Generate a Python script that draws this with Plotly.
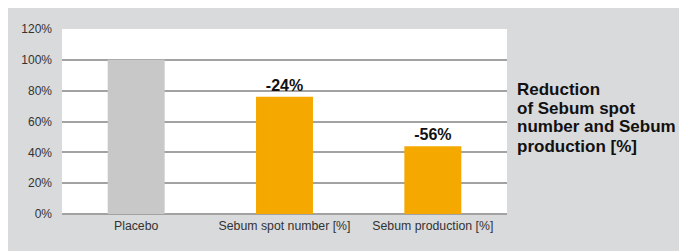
import plotly.graph_objects as go

categories = ["Placebo", "Sebum spot number [%]", "Sebum production [%]"]
values = [100, 76, 44]
bar_labels = ["", "-24%", "-56%"]
bar_colors = ["#c8c8c8", "#f5a800", "#f5a800"]
y_ticks = [0, 20, 40, 60, 80, 100, 120]
y_tick_labels = ["0%", "20%", "40%", "60%", "80%", "100%", "120%"]
side_title = ["Reduction", "of Sebum spot", "number and Sebum", "production [%]"]

# page body has an 8px margin; the figure fills the rest of the window
OFF = 8
W, H = 687 - OFF, 251 - OFF
ml, mr, mt, mb = 54, 180, 21, 37
pw = W - ml - mr
ph = H - mt - mb

def px_x(px):
    return (px - OFF - ml) / pw

def px_y(py):
    return (H - mb - (py - OFF)) / ph

fig = go.Figure()
fig.add_trace(go.Bar(
    x=categories, y=values,
    marker=dict(color=bar_colors, line=dict(width=0)),
    text=bar_labels, textposition="outside", cliponaxis=False,
    textfont=dict(family="Liberation Sans, Arial, sans-serif", size=16, color="#111111", weight="bold"),
    hoverinfo="skip",
))

annotations = []
for i, line in enumerate(side_title):
    annotations.append(dict(
        text=line, xref="paper", yref="paper",
        x=px_x(515), y=px_y(89 + i * 19), xanchor="left", yanchor="middle",
        showarrow=False,
        font=dict(family="Liberation Sans, Arial, sans-serif", size=17, color="#111111", weight="bold"),
    ))

fig.update_layout(
    width=W, height=H,
    margin=dict(l=ml, r=mr, t=mt, b=mb, pad=0),
    paper_bgcolor="#d9dadb", plot_bgcolor="white",
    bargap=0.616,
    showlegend=False,
    annotations=annotations,
    font=dict(family="Liberation Sans, Arial, sans-serif", size=12, color="#333333"),
    xaxis=dict(showgrid=False, showline=False, ticks="", zeroline=False,
               ticklabelstandoff=3,
               tickfont=dict(size=12.3, color="#333333")),
    yaxis=dict(range=[0, 120], tickvals=y_ticks, ticktext=y_tick_labels,
               showgrid=True, gridcolor="#a2a2a2", gridwidth=1.5,
               zeroline=True, zerolinecolor="#a2a2a2", zerolinewidth=1.5,
               showline=False, ticks="", ticklabelstandoff=9,
               tickfont=dict(size=12, color="#333333")),
)

fig.write_html("out.html")
